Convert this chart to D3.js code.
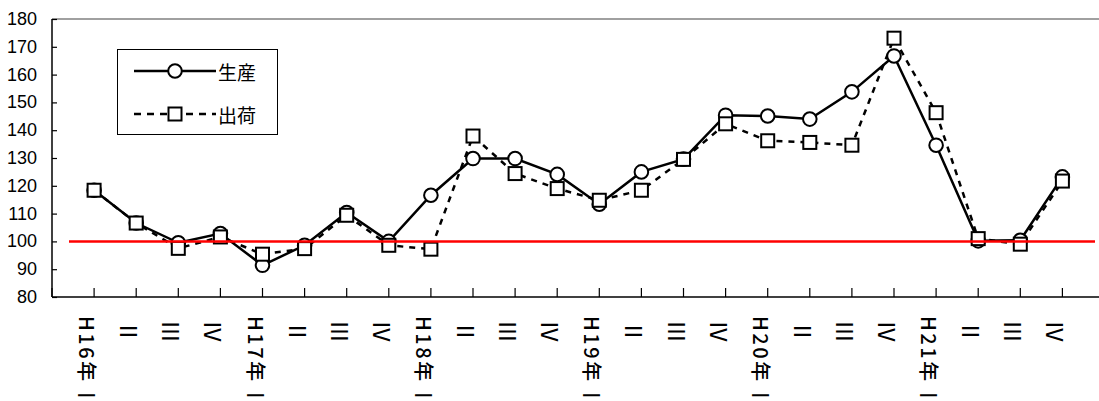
<!DOCTYPE html>
<html>
<head>
<meta charset="utf-8">
<script src="https://cdn.jsdelivr.net/npm/d3@7"></script>
<style>
  html, body { margin: 0; padding: 0; background: #fff; }
  svg { display: block; }
</style>
</head>
<body>
<svg id="chart" width="1099" height="401"></svg>
<script>
const categories = [
  "H16年Ⅰ","Ⅱ","Ⅲ","Ⅳ",
  "H17年Ⅰ","Ⅱ","Ⅲ","Ⅳ",
  "H18年Ⅰ","Ⅱ","Ⅲ","Ⅳ",
  "H19年Ⅰ","Ⅱ","Ⅲ","Ⅳ",
  "H20年Ⅰ","Ⅱ","Ⅲ","Ⅳ",
  "H21年Ⅰ","Ⅱ","Ⅲ","Ⅳ"
];
const production = [
  118.4, 106.6, 99.5, 102.8,
  91.4, 98.6, 110.4, 100.0,
  116.6, 129.8, 129.8, 124.1,
  113.4, 125.0, 129.6, 145.4,
  145.1, 144.0, 153.8, 166.7,
  134.6, 100.2, 100.4, 123.2
];
const shipment = [
  118.4, 106.6, 97.5, 101.6,
  95.4, 97.4, 109.4, 98.6,
  97.2, 137.9, 124.4, 119.0,
  114.8, 118.4, 129.5, 142.3,
  136.2, 135.6, 134.6, 173.1,
  146.3, 101.0, 99.0, 121.7
];
const yTicks = [80, 90, 100, 110, 120, 130, 140, 150, 160, 170, 180];
const seriesNames = ["生産", "出荷"];
const referenceValue = 100;

(function () {
const svg = d3.select("#chart");
const mLeft = 52, mTop = 19, mBottom = 297, rightEdge = 1099;
const step = 42.1;

const y = d3.scaleLinear().domain([80, 180]).range([mBottom, mTop]);
const x = d3.scalePoint().domain(d3.range(categories.length))
  .range([mLeft + step, mLeft + step * categories.length]);

// plot area top border (gray)
svg.append("line")
  .attr("x1", mLeft).attr("x2", rightEdge)
  .attr("y1", mTop).attr("y2", mTop)
  .attr("stroke", "#808080").attr("stroke-width", 1.5);

// Y axis
const yAxis = d3.axisRight(y).tickValues(yTicks).tickSize(5).tickFormat("");
const gy = svg.append("g").attr("transform", `translate(${mLeft},0)`).call(yAxis);
gy.select(".domain").attr("stroke", "#000").attr("stroke-width", 1.5)
  .attr("d", `M0,${mTop}V${mBottom}`);
gy.selectAll(".tick line").attr("stroke", "#000").attr("stroke-width", 1.2);

svg.append("g").selectAll("text").data(yTicks).join("text")
  .attr("x", 37).attr("y", d => y(d))
  .attr("text-anchor", "end").attr("dominant-baseline", "central")
  .attr("font-family", "'Liberation Sans', Arial, sans-serif")
  .attr("font-size", 18).attr("fill", "#000")
  .text(d => d);

// X axis
svg.append("line")
  .attr("x1", mLeft).attr("x2", rightEdge)
  .attr("y1", mBottom).attr("y2", mBottom)
  .attr("stroke", "#000").attr("stroke-width", 1.5);
const xTickPos = [mLeft].concat(categories.map((c, i) => x(i)));
svg.append("g").selectAll("line").data(xTickPos).join("line")
  .attr("x1", d => d).attr("x2", d => d)
  .attr("y1", mBottom).attr("y2", mBottom - 9)
  .attr("stroke", "#000").attr("stroke-width", 1.2);

const labels = svg.append("g").selectAll("text").data(categories).join("text")
  .attr("transform", (d, i) => `translate(${x(i) - 6},316) rotate(90)`)
  .attr("text-anchor", "start").attr("dominant-baseline", "central")
  .attr("font-family", "'Noto Sans CJK JP', sans-serif")
  .attr("font-size", 20).attr("letter-spacing", 2.5).attr("font-weight", 500)
  .attr("fill", "#000");
labels.append("tspan").text(d => d.slice(0, -1));
labels.append("tspan").attr("font-size", 23).attr("font-weight", 400)
  .attr("dx", d => d.length > 1 ? 0 : 4)
  .text(d => d.slice(-1));

// series lines
const line = d3.line().x((d, i) => x(i)).y(d => y(d));
svg.append("path").datum(production).attr("d", line)
  .attr("fill", "none").attr("stroke", "#000").attr("stroke-width", 2.5);
svg.append("path").datum(shipment).attr("d", line)
  .attr("fill", "none").attr("stroke", "#000").attr("stroke-width", 2.5)
  .attr("stroke-dasharray", "6,6");

// markers
svg.append("g").selectAll("circle").data(production).join("circle")
  .attr("cx", (d, i) => x(i)).attr("cy", d => y(d)).attr("r", 6.8)
  .attr("fill", "#fff").attr("stroke", "#000").attr("stroke-width", 2);
const sq = 13;
svg.append("g").selectAll("rect").data(shipment).join("rect")
  .attr("x", (d, i) => x(i) - sq / 2).attr("y", d => y(d) - sq / 2)
  .attr("width", sq).attr("height", sq)
  .attr("fill", "#fff").attr("stroke", "#000").attr("stroke-width", 2);

// reference line at 100
svg.append("line")
  .attr("x1", 69).attr("x2", 1095)
  .attr("y1", y(referenceValue)).attr("y2", y(referenceValue))
  .attr("stroke", "#ff0000").attr("stroke-width", 2.5);

// legend
const lg = svg.append("g");
lg.append("rect").attr("x", 117.5).attr("y", 49.5).attr("width", 160).attr("height", 85)
  .attr("fill", "#fff").attr("stroke", "#000").attr("stroke-width", 1);
lg.append("line").attr("x1", 134).attr("x2", 216).attr("y1", 71).attr("y2", 71)
  .attr("stroke", "#000").attr("stroke-width", 2.5);
lg.append("circle").attr("cx", 175).attr("cy", 71).attr("r", 6.8)
  .attr("fill", "#fff").attr("stroke", "#000").attr("stroke-width", 2);
lg.append("line").attr("x1", 134).attr("x2", 216).attr("y1", 114).attr("y2", 114)
  .attr("stroke", "#000").attr("stroke-width", 2.5).attr("stroke-dasharray", "7,6");
lg.append("rect").attr("x", 175 - sq / 2).attr("y", 114 - sq / 2).attr("width", sq).attr("height", sq)
  .attr("fill", "#fff").attr("stroke", "#000").attr("stroke-width", 2);
lg.selectAll("text.lt").data(seriesNames).join("text")
  .attr("x", 218).attr("y", (d, i) => i === 0 ? 71 : 114)
  .attr("dominant-baseline", "central")
  .attr("font-family", "'Noto Sans CJK JP', sans-serif")
  .attr("font-size", 19).attr("fill", "#000")
  .text(d => d);
})();
</script>
</body>
</html>
